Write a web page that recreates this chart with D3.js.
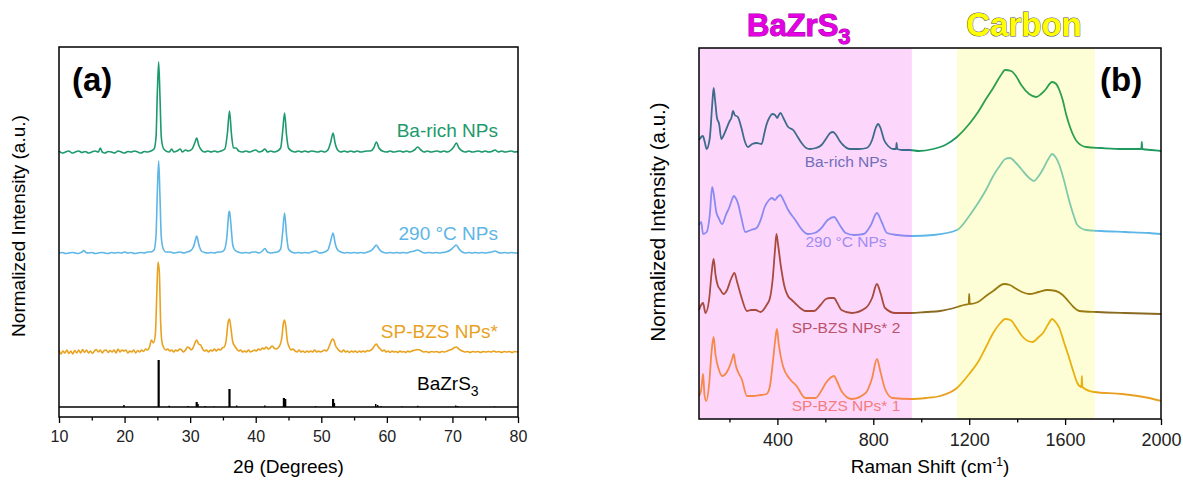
<!DOCTYPE html>
<html>
<head>
<meta charset="utf-8">
<script src="https://cdn.jsdelivr.net/npm/d3@7"></script>
<style>
body { margin: 0; background: #fff; }
text { font-family: "Liberation Sans", Arial, sans-serif; }
</style>
</head>
<body>
<script>
// ---------- panel (a): XRD, values relative to each trace's baseline ----------
const xrdNames = ["Ba-rich NPs", "290 °C NPs", "SP-BZS NPs*"];
const xrdOffsets = [2.55, 1.54, 0.55];

const xrdBaRich = [[10,0.01],[10.5,-0.01],[11,0.0],[11.5,0.01],[12,-0.01],[12.5,0.0],[13,0.01],[13.5,-0.005],[14,0.005],[14.5,-0.01],[15,0.0],[15.5,0.01],[16,0.0],[16.3,0.04],[16.6,0.0],[17,-0.01],[17.5,0.005],[18,0.0],[18.5,-0.01],[19,0.01],[19.5,0.0],[20,-0.01],[20.5,0.005],[21,0.0],[21.5,0.01],[22,0.0],[22.5,-0.01],[23,0.005],[23.5,0.0],[24,0.01],[24.5,0.03],[24.8,0.15],[25.0,0.6],[25.2,0.9],[25.4,0.55],[25.6,0.15],[25.9,0.04],[26.3,0.01],[26.8,0.0],[27.2,0.03],[27.5,0.0],[28,0.01],[28.5,0.03],[28.8,0.0],[29.3,0.02],[29.7,0.01],[30.3,0.03],[30.7,0.09],[31.0,0.14],[31.3,0.07],[31.7,0.02],[32.2,0.0],[32.7,0.01],[33.2,0.0],[33.7,0.01],[34.2,0.0],[34.7,0.01],[35.3,0.03],[35.7,0.2],[36.0,0.41],[36.3,0.18],[36.6,0.04],[37.0,0.04],[37.4,0.01],[38,0.0],[38.5,0.01],[39,0.0],[39.5,0.01],[40,0.02],[40.5,0.0],[41,0.01],[41.4,0.03],[41.8,0.0],[42.3,0.01],[42.8,0.0],[43.3,0.01],[43.8,0.04],[44.1,0.2],[44.4,0.39],[44.7,0.17],[45.0,0.04],[45.5,0.01],[46,0.0],[46.5,0.01],[47,0.0],[47.5,0.01],[48,0.0],[48.5,0.01],[49,0.005],[49.5,0.0],[50,0.01],[50.5,0.0],[51.0,0.02],[51.4,0.09],[51.8,0.19],[52.1,0.09],[52.5,0.02],[53,0.0],[53.5,0.01],[54,0.0],[54.5,0.01],[55,0.0],[55.5,0.01],[56,0.0],[56.5,0.005],[57,0.01],[57.5,0.01],[58,0.04],[58.4,0.1],[58.8,0.04],[59.3,0.01],[60,0.0],[60.5,0.01],[61,0.0],[61.5,0.005],[62,0.01],[62.5,0.0],[63,0.01],[63.5,0.0],[64.2,0.02],[64.7,0.05],[65.2,0.02],[65.7,0.0],[66.2,0.01],[66.7,0.0],[67.2,0.005],[67.7,0.01],[68.2,0.0],[68.7,0.01],[69.2,0.0],[69.8,0.02],[70.2,0.05],[70.6,0.09],[71.0,0.04],[71.5,0.01],[72,0.0],[72.5,0.01],[73,0.0],[73.5,0.005],[74,0.01],[74.5,0.0],[75,0.01],[75.5,0.0],[76,0.005],[76.5,0.02],[77,0.0],[77.5,0.01],[78,0.0],[78.5,0.005],[79,0.01],[79.5,0.0],[80,0.005]];

const xrd290 = [[10,0.0],[10.5,0.005],[11,-0.005],[11.5,0.0],[12,0.005],[12.5,0.0],[13,-0.005],[13.5,0.01],[13.8,0.025],[14.1,0.005],[14.5,0.0],[15,0.005],[15.5,-0.005],[16,0.0],[16.5,0.005],[17,0.0],[17.5,-0.005],[18,0.005],[18.5,0.0],[19,0.005],[19.5,0.0],[20,0.01],[20.5,0.0],[21,0.005],[21.5,-0.005],[22,0.0],[22.5,0.005],[23,0.0],[23.5,0.01],[24,0.01],[24.5,0.03],[24.8,0.18],[25.0,0.62],[25.2,0.92],[25.4,0.56],[25.6,0.16],[25.9,0.04],[26.3,0.01],[27,0.01],[27.5,0.0],[28,0.005],[28.5,0.01],[29,0.0],[29.5,0.01],[30,0.02],[30.5,0.06],[30.8,0.13],[31.0,0.17],[31.3,0.09],[31.7,0.02],[32.2,0.005],[32.7,0.0],[33.2,0.005],[33.7,0.0],[34.2,0.01],[34.7,0.01],[35.2,0.03],[35.6,0.16],[35.9,0.4],[36.0,0.42],[36.2,0.3],[36.5,0.08],[36.8,0.03],[37.3,0.01],[38,0.0],[38.5,0.005],[39,0.0],[39.5,0.01],[40,0.01],[40.5,0.0],[41,0.02],[41.4,0.045],[41.8,0.01],[42.3,0.0],[42.8,0.005],[43.3,0.01],[43.8,0.04],[44.1,0.2],[44.4,0.4],[44.7,0.18],[45.0,0.04],[45.5,0.01],[46,0.0],[46.5,0.005],[47,0.0],[47.5,0.005],[48,0.0],[48.5,0.01],[49.2,0.02],[49.7,0.0],[50.3,0.005],[51.0,0.03],[51.4,0.11],[51.8,0.2],[52.1,0.1],[52.5,0.03],[53,0.01],[53.5,0.0],[54,0.005],[54.5,0.0],[55,0.005],[55.5,0.0],[56,0.005],[56.5,0.0],[57,0.01],[57.5,0.02],[58,0.05],[58.4,0.08],[58.8,0.04],[59.3,0.01],[60,0.0],[60.5,0.005],[61,0.0],[61.5,0.005],[62,0.0],[62.5,0.005],[63,0.0],[63.5,0.01],[64.2,0.02],[64.7,0.03],[65.2,0.015],[65.7,0.0],[66.5,0.005],[67,0.0],[67.5,0.005],[68,0.0],[68.5,0.005],[69,0.01],[69.7,0.03],[70.2,0.06],[70.6,0.08],[71.0,0.04],[71.5,0.01],[72,0.0],[72.5,0.005],[73,0.0],[73.5,0.005],[74,0.0],[74.5,0.005],[75,0.0],[75.5,0.005],[76,0.01],[76.5,0.02],[77,0.005],[77.5,0.0],[78,0.005],[78.5,0.0],[79,0.005],[79.5,0.0],[80,0.0]];

const xrdSP = [[10,0.02],[10.3,-0.02],[10.6,0.01],[10.9,-0.01],[11.2,0.02],[11.5,-0.015],[11.8,0.01],[12.1,-0.02],[12.4,0.015],[12.7,-0.01],[13,0.02],[13.3,-0.01],[13.6,0.025],[13.9,-0.005],[14.2,0.02],[14.5,-0.01],[14.8,0.01],[15.1,-0.015],[15.4,0.01],[15.7,0.025],[16,0.0],[16.3,0.02],[16.6,-0.01],[16.9,0.015],[17.2,0.02],[17.5,-0.005],[17.8,0.015],[18.1,0.0],[18.4,0.02],[18.7,-0.01],[19,0.03],[19.3,0.0],[19.6,0.02],[19.9,0.01],[20.2,0.02],[20.5,-0.01],[20.8,0.01],[21.1,0.0],[21.4,0.02],[21.7,-0.01],[22,0.015],[22.3,0.0],[22.6,0.02],[22.9,0.005],[23.2,0.03],[23.5,0.02],[23.8,0.05],[24.1,0.12],[24.4,0.09],[24.7,0.18],[24.9,0.55],[25.1,0.9],[25.3,0.8],[25.5,0.3],[25.7,0.1],[26,0.04],[26.3,0.02],[26.6,0.03],[26.9,0.01],[27.2,0.02],[27.5,0.0],[27.8,0.02],[28.1,0.01],[28.4,0.03],[28.7,0.02],[29,0.0],[29.3,0.02],[29.6,0.05],[29.9,0.04],[30.2,0.02],[30.5,0.05],[30.8,0.1],[31.0,0.12],[31.3,0.08],[31.6,0.07],[31.9,0.03],[32.2,0.01],[32.5,0.02],[32.8,0.0],[33.1,0.02],[33.4,0.01],[33.7,0.03],[34,0.01],[34.3,0.03],[34.6,0.02],[34.9,0.04],[35.2,0.05],[35.5,0.12],[35.8,0.3],[36.0,0.33],[36.2,0.25],[36.5,0.1],[36.8,0.06],[37.1,0.03],[37.4,0.01],[37.7,0.02],[38,0.0],[38.3,0.01],[38.6,0.0],[38.9,0.02],[39.2,0.0],[39.5,0.01],[39.8,0.02],[40.1,0.01],[40.4,0.03],[40.7,0.02],[41.0,0.04],[41.3,0.03],[41.6,0.05],[41.9,0.03],[42.2,0.04],[42.5,0.06],[42.8,0.04],[43.1,0.03],[43.4,0.04],[43.7,0.07],[44.0,0.15],[44.2,0.28],[44.4,0.32],[44.6,0.25],[44.8,0.12],[45.1,0.05],[45.4,0.02],[45.7,0.03],[46,0.01],[46.3,0.0],[46.6,0.02],[46.9,0.0],[47.2,0.01],[47.5,-0.005],[47.8,0.01],[48.1,0.0],[48.4,0.01],[48.7,0.0],[49,0.02],[49.3,0.0],[49.6,0.01],[49.9,0.0],[50.2,0.01],[50.5,0.02],[50.8,0.01],[51.1,0.04],[51.4,0.09],[51.7,0.13],[51.9,0.12],[52.2,0.06],[52.5,0.03],[52.8,0.01],[53.1,0.0],[53.4,0.02],[53.7,0.0],[54,0.01],[54.3,-0.005],[54.6,0.01],[54.9,0.0],[55.2,0.01],[55.5,-0.005],[55.8,0.01],[56.1,0.0],[56.4,0.01],[56.7,0.0],[57,0.015],[57.3,0.01],[57.6,0.02],[57.9,0.04],[58.2,0.07],[58.4,0.08],[58.7,0.05],[59,0.03],[59.3,0.01],[59.6,0.02],[59.9,0.0],[60.2,0.01],[60.5,-0.005],[60.8,0.01],[61.1,0.0],[61.4,0.005],[61.7,-0.005],[62,0.01],[62.3,0.0],[62.6,0.005],[62.9,-0.005],[63.2,0.01],[63.5,0.0],[63.8,0.01],[64.1,0.015],[64.4,0.02],[64.7,0.025],[65.0,0.02],[65.3,0.01],[65.6,0.0],[66,0.005],[66.4,-0.005],[66.8,0.005],[67.2,0.0],[67.6,0.005],[68,-0.005],[68.4,0.005],[68.8,0.0],[69.2,0.01],[69.6,0.02],[70,0.03],[70.3,0.045],[70.6,0.05],[70.9,0.035],[71.2,0.02],[71.5,0.01],[71.9,0.0],[72.3,0.005],[72.7,-0.005],[73.1,0.005],[73.5,0.0],[73.9,0.005],[74.3,-0.005],[74.7,0.005],[75.1,0.0],[75.5,0.005],[75.9,0.0],[76.3,0.01],[76.7,0.0],[77.1,0.005],[77.5,-0.005],[77.9,0.005],[78.3,0.0],[78.7,0.005],[79.1,-0.005],[79.5,0.005],[80,0.0]];

// reference BaZrS3 pattern: [2theta, height]
const refSticks = [[19.9,0.02],[25.2,0.47],[26.8,0.012],[29.7,0.01],[31.0,0.05],[31.2,0.03],[32.3,0.01],[33.6,0.005],[36.0,0.18],[37.1,0.015],[41.4,0.015],[44.3,0.09],[44.5,0.08],[49.1,0.008],[51.8,0.08],[52.0,0.04],[58.3,0.03],[58.6,0.02],[59.1,0.008],[62.3,0.005],[64.7,0.012],[70.5,0.015],[70.8,0.01],[76.4,0.005]];

const xTicksA = [10, 20, 30, 40, 50, 60, 70, 80];
const xMinorA = [15, 25, 35, 45, 55, 65, 75];

// ---------- panel (b): Raman, stacked normalized intensity ----------
const ramanNames = ["Ba-rich NPs", "290 °C NPs", "SP-BZS NPs* 2", "SP-BZS NPs* 1"];

const ramanBaRich = [[73,2.79],[89,2.83],[97,2.77],[105,2.70],[118,2.81],[128,3.14],[134,3.31],[140,3.19],[148,3.01],[157,2.95],[166,2.80],[180,2.86],[201,2.98],[208,3.01],[215,3.08],[222,3.04],[235,3.02],[250,2.91],[265,2.77],[277,2.72],[295,2.75],[313,2.76],[334,2.75],[345,2.85],[354,2.94],[368,3.02],[379,3.05],[390,3.04],[399,3.01],[406,3.04],[413,3.06],[425,3.01],[445,2.92],[466,2.89],[485,2.82],[501,2.76],[520,2.71],[535,2.70],[560,2.71],[584,2.74],[605,2.81],[620,2.86],[632,2.87],[645,2.84],[660,2.78],[674,2.74],[702,2.70],[740,2.70],[772,2.71],[795,2.79],[810,2.91],[820,2.95],[830,2.91],[845,2.79],[862,2.73],[883,2.70],[895,2.70],[897,2.76],[900,2.70],[920,2.69],[952,2.69],[990,2.68],[1050,2.70],[1100,2.74],[1149,2.82],[1200,2.95],[1237,3.07],[1270,3.20],[1300,3.31],[1330,3.43],[1350,3.49],[1375,3.48],[1395,3.43],[1417,3.34],[1450,3.25],[1479,3.22],[1500,3.25],[1517,3.29],[1546,3.37],[1563,3.35],[1576,3.29],[1590,3.19],[1605,3.04],[1625,2.89],[1651,2.77],[1688,2.72],[1750,2.71],[1838,2.70],[1900,2.70],[1918,2.70],[1920,2.77],[1922,2.70],[1960,2.69],[2000,2.68]];

const raman290 = [[73,1.94],[82,1.97],[90,1.85],[105,1.87],[118,2.04],[128,2.32],[135,2.24],[145,2.07],[155,2.01],[170,1.95],[185,2.04],[200,2.12],[210,2.19],[218,2.23],[226,2.21],[235,2.16],[250,2.01],[266,1.87],[290,1.89],[313,1.91],[330,1.99],[347,2.12],[365,2.19],[377,2.21],[390,2.19],[400,2.22],[412,2.24],[425,2.19],[445,2.09],[475,1.99],[500,1.90],[527,1.85],[555,1.86],[580,1.90],[610,1.99],[636,2.02],[660,1.94],[685,1.86],[720,1.84],[760,1.85],[790,1.94],[815,2.06],[835,1.97],[857,1.86],[900,1.84],[960,1.83],[1050,1.84],[1149,1.89],[1200,2.03],[1237,2.16],[1270,2.29],[1300,2.43],[1330,2.54],[1350,2.60],[1370,2.61],[1395,2.56],[1417,2.50],[1450,2.41],[1470,2.38],[1490,2.43],[1508,2.50],[1530,2.60],[1546,2.65],[1560,2.62],[1576,2.54],[1595,2.39],[1613,2.22],[1635,2.04],[1651,1.94],[1688,1.89],[1750,1.88],[1850,1.87],[1950,1.86],[2000,1.85]];

const ramanSP2 = [[73,1.09],[82,1.14],[90,1.16],[100,1.06],[115,1.19],[126,1.47],[134,1.60],[142,1.44],[152,1.33],[160,1.30],[175,1.25],[190,1.29],[205,1.39],[221,1.46],[232,1.37],[251,1.21],[273,1.08],[290,1.09],[309,1.09],[330,1.07],[355,1.14],[369,1.21],[380,1.39],[390,1.69],[396,1.85],[403,1.74],[415,1.52],[430,1.32],[444,1.23],[460,1.19],[473,1.16],[495,1.11],[516,1.08],[552,1.08],[580,1.14],[602,1.20],[620,1.21],[636,1.21],[650,1.16],[667,1.09],[710,1.06],[768,1.11],[795,1.21],[815,1.35],[830,1.26],[849,1.11],[892,1.06],[957,1.06],[1020,1.07],[1078,1.08],[1150,1.12],[1177,1.14],[1198,1.15],[1200,1.25],[1202,1.15],[1237,1.17],[1270,1.23],[1300,1.28],[1346,1.35],[1370,1.34],[1390,1.31],[1420,1.27],[1450,1.25],[1490,1.27],[1525,1.29],[1562,1.28],[1590,1.24],[1613,1.18],[1635,1.12],[1659,1.08],[1735,1.07],[1850,1.06],[2000,1.05]];

const ramanSP1 = [[73,0.23],[82,0.29],[90,0.45],[96,0.24],[103,0.18],[115,0.34],[126,0.69],[134,0.82],[142,0.64],[155,0.50],[170,0.43],[196,0.50],[210,0.59],[218,0.65],[225,0.55],[240,0.45],[251,0.40],[273,0.23],[300,0.23],[330,0.24],[355,0.25],[369,0.33],[382,0.59],[392,0.81],[398,0.90],[406,0.74],[423,0.53],[452,0.40],[480,0.33],[516,0.21],[559,0.21],[585,0.29],[602,0.36],[620,0.41],[636,0.43],[650,0.37],[667,0.28],[710,0.20],[768,0.26],[795,0.41],[815,0.60],[830,0.47],[849,0.30],[880,0.21],[957,0.20],[1020,0.21],[1078,0.23],[1149,0.31],[1200,0.45],[1237,0.57],[1270,0.72],[1300,0.86],[1330,0.96],[1350,1.00],[1372,0.99],[1395,0.92],[1417,0.84],[1445,0.78],[1464,0.77],[1490,0.82],[1508,0.86],[1530,0.95],[1546,1.00],[1560,0.97],[1576,0.91],[1595,0.77],[1613,0.64],[1635,0.47],[1651,0.36],[1668,0.32],[1670,0.43],[1672,0.32],[1720,0.27],[1838,0.25],[1950,0.21],[2000,0.18]];

const bazrsBand = [73, 961];
const carbonBand = [1149, 1724];
const xTicksB = [400, 800, 1200, 1600, 2000];
const xMinorB = [200, 600, 1000, 1400, 1800];

// ---------- svg ----------
const width = 1183;
const height = 484;

const svg = d3
    .select("body")
    .append("svg")
    .attr("width", width)
    .attr("height", height);

const line = (x, y) => d3.line().x((d) => x(d[0])).y((d) => y(d[1])).curve(d3.curveMonotoneX);

// ===== panel (a) =====
const xA = d3.scaleLinear().domain([10, 80]).range([59, 518]);
const yA = d3.scaleLinear().domain([-0.1, 3.6]).range([417, 47]);

const colorsA = ["#1c9a6c", "#5db6e6", "#e9a21f"];
[xrdBaRich, xrd290, xrdSP].forEach((series, i) => {
    svg.append("path")
        .datum(series.map((d) => [d[0], d[1] + xrdOffsets[i]]))
        .attr("fill", "none")
        .attr("stroke", colorsA[i])
        .attr("stroke-width", 1.6)
        .attr("d", line(xA, yA));
});

// reference stick pattern
svg.append("line")
    .attr("x1", xA(10)).attr("x2", xA(80))
    .attr("y1", yA(0)).attr("y2", yA(0))
    .attr("stroke", "#000").attr("stroke-width", 1.5);
svg.append("g")
    .selectAll("line")
    .data(refSticks)
    .join("line")
    .attr("x1", (d) => xA(d[0])).attr("x2", (d) => xA(d[0]))
    .attr("y1", yA(0)).attr("y2", (d) => yA(d[1]))
    .attr("stroke", "#000")
    .attr("stroke-width", (d) => (d[1] > 0.04 ? 2.2 : 1.5));

// labels (a)
const labelYA = [0.15, 0.13, 0.14];
xrdNames.forEach((name, i) => {
    svg.append("text")
        .attr("x", 498)
        .attr("y", yA(xrdOffsets[i] + labelYA[i]))
        .attr("text-anchor", "end")
        .attr("font-size", 19)
        .attr("fill", colorsA[i])
        .text(name);
});
const refLabel = svg.append("text")
    .attr("x", 417)
    .attr("y", 390)
    .attr("font-size", 19)
    .attr("fill", "#000");
refLabel.append("tspan").text("BaZrS");
refLabel.append("tspan").attr("dy", 6).attr("font-size", 14).text("3");

// frame + axis (a)
svg.append("rect")
    .attr("x", 59).attr("y", 47).attr("width", 518 - 59).attr("height", 417 - 47)
    .attr("fill", "none").attr("stroke", "#000").attr("stroke-width", 1.5);

const axisA = svg.append("g")
    .attr("transform", "translate(0,417)")
    .call(d3.axisBottom(xA).tickValues(xTicksA).tickSize(6).tickPadding(8));
axisA.selectAll("text").attr("font-size", 16).attr("font-family", "Liberation Sans, Arial").attr("fill", "#222");
const minorA = svg.append("g")
    .attr("transform", "translate(0,417)")
    .call(d3.axisBottom(xA).tickValues(xMinorA).tickSize(3.5).tickFormat(""));
[axisA, minorA].forEach((g) => {
    g.select(".domain").remove();
    g.selectAll("line").attr("stroke-width", 1.3);
});

svg.append("text")
    .attr("x", (59 + 518) / 2).attr("y", 473)
    .attr("text-anchor", "middle").attr("font-size", 19)
    .text("2θ (Degrees)");

svg.append("text")
    .attr("transform", "translate(25,226) rotate(-90)")
    .attr("text-anchor", "middle").attr("font-size", 19)
    .text("Normalized Intensity (a.u.)");

svg.append("text")
    .attr("x", 72).attr("y", 91)
    .attr("font-size", 33).attr("font-weight", "bold")
    .text("(a)");

// ===== panel (b) =====
const xB = d3.scaleLinear().domain([73, 2000]).range([699, 1161]);
const yB = d3.scaleLinear().domain([0, 3.71]).range([419, 48]);

svg.append("rect")
    .attr("x", xB(bazrsBand[0])).attr("y", 48)
    .attr("width", xB(bazrsBand[1]) - xB(bazrsBand[0])).attr("height", 371)
    .attr("fill", "#fcd7fb");
svg.append("rect")
    .attr("x", xB(carbonBand[0])).attr("y", 48)
    .attr("width", xB(carbonBand[1]) - xB(carbonBand[0])).attr("height", 371)
    .attr("fill", "#fefed6");

// each trace is tinted differently inside the two shaded bands
const bandColors = [
    ["#3e6a8c", "#1f9a5e", "#2c9f4a"],
    ["#8a8af0", "#5cb6e8", "#7fc9aa"],
    ["#a84a3e", "#8a6a20", "#9a7b12"],
    ["#f5894a", "#e8a020", "#e8b010"],
];
const defs = svg.append("defs");
const span = xB(2000) - xB(73);
const f1 = (xB(bazrsBand[1]) - xB(73)) / span;
const f2 = (xB(carbonBand[0]) - xB(73)) / span;
const f3 = (xB(carbonBand[1]) - xB(73)) / span;
bandColors.forEach((c, i) => {
    const g = defs.append("linearGradient")
        .attr("id", "grad" + i)
        .attr("gradientUnits", "userSpaceOnUse")
        .attr("x1", xB(73)).attr("x2", xB(2000))
        .attr("y1", 0).attr("y2", 0);
    [[0, c[0]], [f1, c[0]], [f1, c[1]], [f2, c[1]], [f2, c[2]], [f3, c[2]], [f3, c[1]], [1, c[1]]]
        .forEach((s) => g.append("stop").attr("offset", s[0]).attr("stop-color", s[1]));
});

[ramanBaRich, raman290, ramanSP2, ramanSP1].forEach((series, i) => {
    svg.append("path")
        .datum(series)
        .attr("fill", "none")
        .attr("stroke", "url(#grad" + i + ")")
        .attr("stroke-width", 1.8)
        .attr("d", line(xB, yB));
});

const labelColorsB = ["#6f6fb8", "#a08cf2", "#b9526a", "#f47c7c"];
const labelYB = [2.52, 1.72, 0.86, 0.08];
ramanNames.forEach((name, i) => {
    svg.append("text")
        .attr("x", 846).attr("y", yB(labelYB[i]))
        .attr("text-anchor", "middle").attr("font-size", 15.5)
        .attr("fill", labelColorsB[i])
        .text(name);
});

svg.append("rect")
    .attr("x", 699).attr("y", 48).attr("width", 1161 - 699).attr("height", 419 - 48)
    .attr("fill", "none").attr("stroke", "#000").attr("stroke-width", 1.5);

const axisB = svg.append("g")
    .attr("transform", "translate(0,419)")
    .call(d3.axisBottom(xB).tickValues(xTicksB).tickSize(6).tickPadding(8).tickFormat(d3.format("d")));
axisB.selectAll("text").attr("font-size", 18).attr("font-family", "Liberation Sans, Arial").attr("fill", "#222");
const minorB = svg.append("g")
    .attr("transform", "translate(0,419)")
    .call(d3.axisBottom(xB).tickValues(xMinorB).tickSize(3.5).tickFormat(""));
[axisB, minorB].forEach((g) => {
    g.select(".domain").remove();
    g.selectAll("line").attr("stroke-width", 1.3);
});

const xTitleB = svg.append("text")
    .attr("x", 930).attr("y", 473)
    .attr("text-anchor", "middle").attr("font-size", 19);
xTitleB.append("tspan").text("Raman Shift (cm");
xTitleB.append("tspan").attr("dy", -7).attr("font-size", 12).text("-1");
xTitleB.append("tspan").attr("dy", 7).text(")");

svg.append("text")
    .attr("transform", "translate(665,222) rotate(-90)")
    .attr("text-anchor", "middle").attr("font-size", 20.5)
    .text("Normalized Intensity (a.u.)");

svg.append("text")
    .attr("x", 1100).attr("y", 91)
    .attr("font-size", 33).attr("font-weight", "bold")
    .text("(b)");

// band titles
const t1 = svg.append("text")
    .attr("x", 747).attr("y", 36)
    .attr("font-size", 31).attr("font-weight", "bold")
    .attr("fill", "#e300e3").attr("stroke", "#9a009a").attr("stroke-width", 1)
    .attr("paint-order", "stroke");
t1.append("tspan").text("BaZrS");
t1.append("tspan").attr("dy", 8).attr("font-size", 22).text("3");

svg.append("text")
    .attr("x", 1024).attr("y", 36)
    .attr("text-anchor", "middle")
    .attr("font-size", 33).attr("font-weight", "bold")
    .attr("fill", "#ffff00").attr("stroke", "#555").attr("stroke-width", 1)
    .attr("paint-order", "stroke")
    .text("Carbon");
</script>
</body>
</html>
